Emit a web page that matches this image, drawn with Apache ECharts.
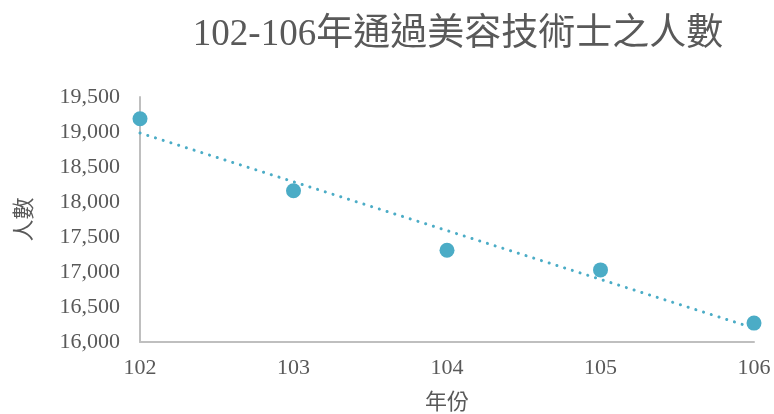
<!DOCTYPE html>
<html>
<head>
<meta charset="utf-8">
<script src="https://cdn.jsdelivr.net/npm/echarts@6/dist/echarts.min.js"></script>
<style>
html,body{margin:0;padding:0;background:#fff;}
#main{width:774px;height:414px;}
</style>
</head>
<body>
<div id="main"></div>
<script>
var years = [102, 103, 104, 105, 106];
var counts = [19190, 18160, 17310, 17030, 16270];
var yTicks = [16000, 19500, 500];

var fontFam = "'Liberation Serif','Noto Sans CJK TC',serif";
var txtColor = '#595959';
var dotColor = '#4BACC6';

// linear trendline from the data
var n = years.length, sx = 0, sy = 0, sxy = 0, sxx = 0;
for (var i = 0; i < n; i++) {
	sx += years[i]; sy += counts[i];
	sxy += years[i] * counts[i]; sxx += years[i] * years[i];
}
var slope = (n * sxy - sx * sy) / (n * sxx - sx * sx);
var intercept = (sy - slope * sx) / n;
var trend = [
	[years[0], intercept + slope * years[0]],
	[years[n - 1], intercept + slope * years[n - 1]]
];

var chart = echarts.init(document.getElementById('main'));
var option = {
	backgroundColor: '#fff',
	title: {
		text: '102-106年通過美容技術士之人數',
		left: 453,
		textAlign: 'center',
		top: 12,
		textStyle: {
			color: txtColor,
			fontFamily: fontFam,
			fontSize: 37,
			fontWeight: 'normal'
		}
	},
	grid: {
		left: 140,
		right: 20,
		top: 97,
		bottom: 72,
		containLabel: false,
		outerBoundsMode: 'none'
	},
	xAxis: {
		type: 'value',
		min: 102,
		max: 106,
		interval: 1,
		name: '年份',
		nameLocation: 'middle',
		nameGap: 50,
		nameTextStyle: { color: txtColor, fontFamily: fontFam, fontSize: 22 },
		axisLine: { lineStyle: { color: '#BFBFBF', width: 2 } },
		axisTick: { show: false },
		splitLine: { show: false },
		axisLabel: { color: txtColor, fontFamily: fontFam, fontSize: 22, margin: 15 }
	},
	yAxis: {
		type: 'value',
		min: yTicks[0],
		max: yTicks[1],
		interval: yTicks[2],
		name: '人數',
		nameLocation: 'middle',
		nameRotate: 90,
		nameGap: 104,
		nameTextStyle: { color: txtColor, fontFamily: fontFam, fontSize: 22 },
		axisLine: { show: true, lineStyle: { color: '#BFBFBF', width: 2 } },
		axisTick: { show: false },
		splitLine: { show: false },
		axisLabel: {
			color: txtColor,
			fontFamily: fontFam,
			fontSize: 22,
			margin: 20,
			formatter: function (v) { return v.toLocaleString('en-US'); }
		}
	},
	series: [{
		type: 'line',
		data: trend,
		symbol: 'none',
		silent: true,
		z: 1,
		lineStyle: { color: dotColor, width: 3, type: [0.1, 8], cap: 'round' }
	}, {
		type: 'scatter',
		z: 3,
		symbolSize: 15,
		itemStyle: { color: dotColor, opacity: 1 },
		data: years.map(function (y, i) { return [y, counts[i]]; })
	}]
};
chart.setOption(option);
</script>
</body>
</html>
